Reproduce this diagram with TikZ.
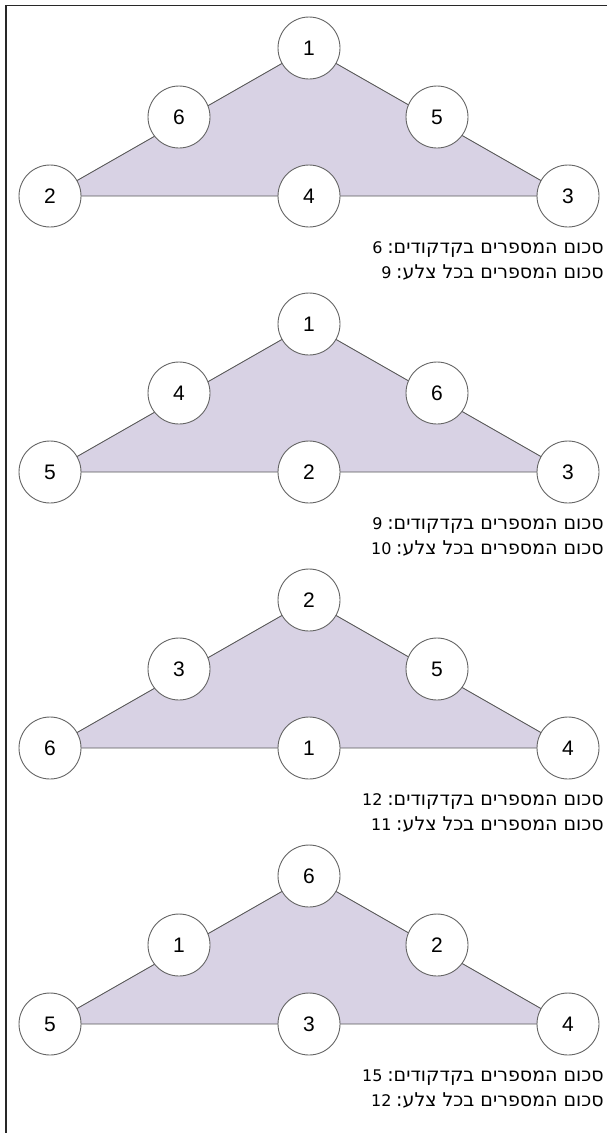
\documentclass[tikz,border=0pt]{standalone}
\usepackage{fontspec}
\setmainfont{Liberation Sans}
\newfontfamily\hebfont[Script=Hebrew]{DejaVu Sans}
\TeXXeTstate=1
\definecolor{lavender}{RGB}{216,210,228}
\definecolor{edgegray}{RGB}{90,90,90}
\definecolor{ringgray}{RGB}{100,100,100}
\definecolor{framegray}{RGB}{40,40,40}
\newcommand\sumnum[1]{\beginL{\fontsize{16}{16}\selectfont#1}\endL}

\begin{document}
\begin{tikzpicture}[x=1pt,y=-1pt,
  num/.style={circle,draw=ringgray,fill=white,line width=0.9pt,
    minimum size=62pt,inner sep=0pt,font=\fontsize{21}{21}\selectfont},
  side/.style={draw=edgegray,line width=0.9pt},
  face/.style={fill=lavender},
  sumtext/.style={anchor=base east,inner sep=0pt,
    font=\hebfont\fontsize{19}{19}\selectfont}]
  \useasboundingbox (0,0) rectangle (607,1133);
  % frame: only the top and left sides are inside the page
  \draw[framegray,line width=1.4pt] (6,1133) -- (6,5.5) -- (607,5.5);

  \foreach \p/\dy/\a/\b/\c/\d/\e/\f/\s/\t in
    {1/0/1/6/5/2/4/3/6/9,
     2/276/1/4/6/5/2/3/9/10,
     3/552/2/3/5/6/1/4/12/11,
     4/828/6/1/2/5/3/4/15/12}
  {
    \begin{scope}[shift={(0,\dy)}]
      \coordinate (ct\p) at (309,48);
      \coordinate (cl\p) at (50,196);
      \coordinate (cr\p) at (568,196);
      \fill[face] (cl\p) -- (ct\p) -- (cr\p) -- cycle;
      \draw[side] (cl\p) -- (ct\p) -- (cr\p) -- cycle;
      \node[num] (top\p) at (ct\p) {\a};
      \node[num] (ml\p) at (179,117) {\b};
      \node[num] (mr\p) at (437,117) {\c};
      \node[num] (bl\p) at (cl\p) {\d};
      \node[num] (bm\p) at (309,196) {\e};
      \node[num] (br\p) at (cr\p) {\f};
      \node[sumtext] (sa\p) at (604,253)
        {\beginR סכום המספרים בקדקודים:\hspace{0.25em}\sumnum{\s}\endR};
      \node[sumtext] (sb\p) at (604,278)
        {\beginR סכום המספרים בכל צלע:\hspace{0.25em}\sumnum{\t}\endR};
    \end{scope}
  }
\end{tikzpicture}
\end{document}
